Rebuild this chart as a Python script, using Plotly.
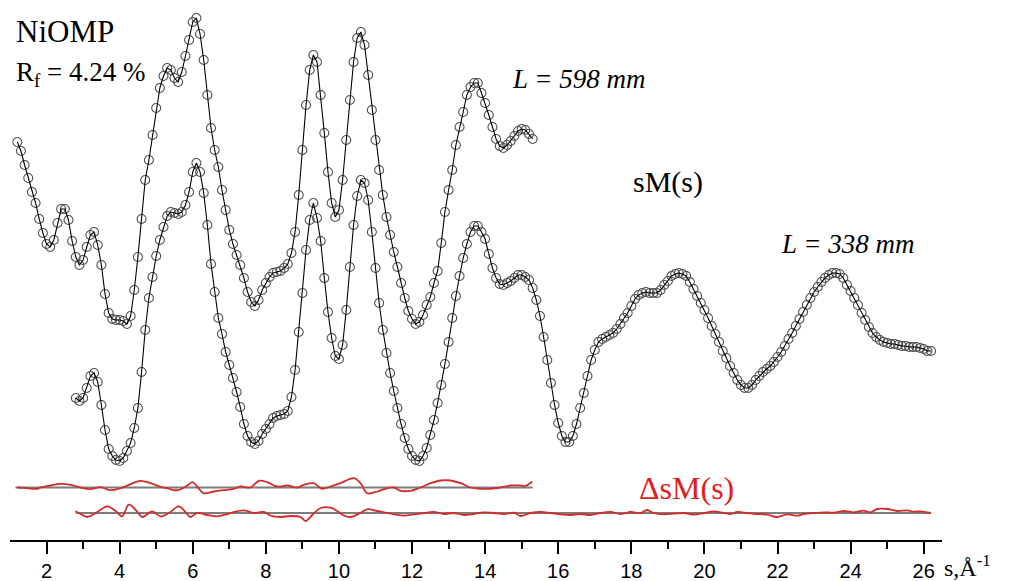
import numpy as np
import plotly.graph_objects as go

# ---------------- data (vertical values in arbitrary depth units, top = 0) ----------------
# L = 598 mm experimental / theoretical sM(s), s = 1.2 ... 15.3 step 0.1
S_598 = np.round(np.arange(1.2, 15.3001, 0.1), 1)
SM_598 = [
    142, 151, 165, 178, 192, 203, 219, 233, 244, 247,
    240, 223, 209, 209, 220, 241, 257, 265, 260, 247,
    235, 232, 245, 265, 294, 313, 319, 320, 320, 321,
    324, 316, 290, 257, 219, 180, 160, 135, 108, 88,
    76, 68, 70, 78, 82, 72, 56, 40, 22, 18,
    34, 60, 95, 128, 150, 167, 190, 210, 230, 244,
    255, 265, 278, 292, 302, 306, 300, 290, 283, 277,
    273, 272, 271, 268, 264, 253, 232, 195, 150, 105,
    70, 55, 62, 95, 133, 172, 203, 217, 210, 180,
    140, 100, 62, 38, 32, 45, 75, 110, 140, 170,
    195, 217, 235, 252, 267, 283, 298, 311, 319, 324,
    322, 315, 305, 297, 283, 271, 243, 212, 190, 170,
    145, 127, 112, 95, 87, 83, 83, 93, 103, 115,
    127, 139, 146, 148, 145, 141, 136, 131, 129, 130,
    134, 139,
]

# L = 338 mm, s = 2.8 ... 26.2 step 0.1
S_338 = np.round(np.arange(2.8, 26.2001, 0.1), 1)
SM_338 = [
    398, 401, 398, 388, 376, 373, 382, 405, 430, 449,
    456, 460, 461, 458, 451, 443, 428, 408, 372, 330,
    298, 277, 256, 240, 227, 216, 212, 213, 214, 212,
    205, 192, 172, 163, 172, 193, 225, 264, 292, 318,
    334, 352, 365, 378, 392, 407, 424, 436, 442, 444,
    441, 434, 429, 424, 418, 416, 415, 414, 411, 397,
    370, 332, 293, 250, 220, 203, 218, 241, 278, 312,
    338, 356, 359, 345, 310, 267, 225, 196, 180, 183,
    200, 232, 268, 303, 330, 353, 373, 391, 408, 424,
    438, 449, 456, 460, 461, 456, 448, 435, 420, 403,
    385, 364, 342, 318, 296, 276, 258, 244, 232, 226,
    226, 232, 239, 254, 268, 278, 284, 285, 283, 281,
    278, 275, 275, 277, 280, 288, 300, 316, 337, 360,
    383, 405, 423, 436, 442, 442, 436, 424, 408, 393,
    376, 360, 350, 342, 339, 337, 335, 333, 329, 324,
    318, 313, 306, 299, 295, 293, 292, 293, 293, 293,
    290, 285, 281, 276, 274, 273, 274, 276, 282, 289,
    296, 303, 310, 318, 326, 334, 342, 351, 358, 366,
    373, 380, 385, 388, 388, 385, 380, 376, 372, 369,
    366, 362, 357, 352, 346, 339, 333, 326, 319, 312,
    305, 298, 292, 287, 282, 278, 275, 273, 273, 274,
    278, 285, 291, 298, 305, 313, 320, 327, 333, 337,
    340, 342, 343, 344, 344, 345, 346, 346, 347, 347,
    347, 348, 349, 351, 351,
]

# residual curves  ΔsM(s) (deviation, positive = up) and their zero lines
RES598_S = [1.20, 1.47, 1.75, 1.84, 2.11, 2.38, 2.66, 2.93, 3.20, 3.48,
            3.75, 4.02, 4.30, 4.57, 4.85, 5.12, 5.30, 5.58, 5.85, 5.99,
            6.12, 6.30, 6.58, 6.85, 7.12, 7.31, 7.58, 7.81, 8.04, 8.31,
            8.59, 8.86, 9.04, 9.31, 9.54, 9.77, 10.04, 10.41, 10.59, 10.77,
            11.05, 11.23, 11.50, 11.69, 11.96, 12.23, 12.51, 12.78, 13.05, 13.33,
            13.60, 13.87, 14.15, 14.42, 14.69, 14.97, 15.10, 15.29]
RES598_D = [0, -0.7, -1.3, 0, 2, 3.7, 2.7, 0, -1.7, 0.3,
            -2.7, -0.7, 3.3, 6.7, 4.3, 0.7, -0.7, -2.7, 2, 5.3,
            1, -5.7, -4, -2.7, -1.3, 1, 0, 6.7, 5.3, 1,
            2, 0, 2.7, 4.3, -1.3, 1, 4.3, 9.3, 4.3, -5.7,
            -4, -1.7, 0, -3.3, -3.3, 0, 4.3, 7, 7, 4.3,
            0, -1.3, -1.3, 0, 2, 2, 1.5, 6]
RES598_BASE = 487.5
RES598_ZERO_S = [1.15, 15.3]

RES338_S = [2.79, 2.93, 3.11, 3.39, 3.66, 3.89, 4.07, 4.25, 4.44, 4.62,
            4.89, 5.12, 5.35, 5.62, 5.80, 5.94, 6.12, 6.40, 6.67, 6.94,
            7.12, 7.40, 7.67, 7.95, 8.13, 8.40, 8.68, 8.95, 9.09, 9.27,
            9.50, 9.77, 9.95, 10.14, 10.32, 10.59, 10.77, 11.05, 11.23, 11.50,
            11.78, 12.05, 12.32, 12.60, 12.87, 13.14, 13.42, 13.69, 13.96, 14.24,
            14.51, 14.79, 14.97, 15.24, 15.52, 15.79, 16.06, 16.34, 16.61, 16.88,
            17.16, 17.43, 17.71, 17.98, 18.25, 18.43, 18.61, 18.89, 19.16, 19.44,
            19.71, 19.98, 20.26, 20.44, 20.71, 20.90, 21.17, 21.44, 21.72, 21.99,
            22.27, 22.54, 22.72, 23.00, 23.27, 23.54, 23.82, 24.09, 24.36, 24.54,
            24.73, 25.00, 25.28, 25.55, 25.73, 25.91, 26.19]
RES338_D = [1.7, -1, -4, 1, 6.7, 2, -3.3, 8.3, 3, -4,
            1.7, -3.3, 0, 6.7, 1, -4, 0, -2, -3.3, -1.3,
            1, 2.7, 0, 1, -2.7, -4, -3, -4, -8, -2,
            5, 5.3, 2, -2.7, -4, 0, 3.7, 2, 0.7, -1.3,
            -2.7, -1.3, 0, 1, -1, 0, -2, -1, 0.7, 0,
            -1, 0.3, -3, 0, 1, 0, -1.3, -2, -1, -2,
            0, 1, -1, 1, 0, 3, 0, -1.3, -0.7, 0,
            -1.7, 0, 1.7, 0.7, -1, 1, 0, -1, -1.7, -4,
            -1.3, -2.7, -1, 0, 0.7, 0.3, 2, 0.7, 2.3, 0.7,
            4, 4, 2, 2.7, 1.3, 1.7, 0]
RES338_BASE = 513.0
RES338_ZERO_S = [2.8, 26.2]

X_TICKS = [2, 4, 6, 8, 10, 12, 14, 16, 18, 20, 22, 24, 26]
X_MINOR = [3, 5, 7, 9, 11, 13, 15, 17, 19, 21, 23, 25]

# ---------------- figure ----------------
fig = go.Figure()

circle_style = dict(symbol="circle-open", size=9, color="#505050", line=dict(width=1.1, color="#505050"))

for s, v in [(S_598, SM_598), (S_338, SM_338)]:
    fig.add_trace(go.Scatter(x=s, y=v, mode="markers", marker=circle_style,
                             cliponaxis=False, showlegend=False, hoverinfo="skip"))
    fig.add_trace(go.Scatter(x=s, y=v, mode="lines", line=dict(color="black", width=1.1),
                             cliponaxis=False, showlegend=False, hoverinfo="skip"))

for zs, base in [(RES598_ZERO_S, RES598_BASE), (RES338_ZERO_S, RES338_BASE)]:
    fig.add_trace(go.Scatter(x=zs, y=[base, base], mode="lines",
                             line=dict(color="#7d7d7d", width=1.8),
                             showlegend=False, hoverinfo="skip"))

for rs, rd, base in [(RES598_S, RES598_D, RES598_BASE), (RES338_S, RES338_D, RES338_BASE)]:
    fig.add_trace(go.Scatter(x=rs, y=[base - d for d in rd], mode="lines",
                             line=dict(color="#d42c2c", width=1.8, shape="spline", smoothing=1.0),
                             showlegend=False, hoverinfo="skip"))

serif = "Liberation Serif, Times New Roman, serif"
ann = [
    dict(text="NiOMP", x=1.1, y=31, xanchor="left", yanchor="middle", xref="x", yref="y",
         font=dict(family=serif, size=31, color="black")),
    dict(text="R<sub>f</sub> = 4.24 %", x=1.11, y=74, xanchor="left", yanchor="middle",
         xref="x", yref="y", font=dict(family=serif, size=27, color="black")),
    dict(text="<i>L = 598 mm</i>", x=16.56, y=79, xanchor="center", yanchor="middle",
         xref="x", yref="y", font=dict(family=serif, size=27, color="black")),
    dict(text="sM(s)", x=19.0, y=182, xanchor="center", yanchor="middle",
         xref="x", yref="y", font=dict(family=serif, size=30, color="black")),
    dict(text="<i>L = 338 mm</i>", x=23.94, y=244, xanchor="center", yanchor="middle",
         xref="x", yref="y", font=dict(family=serif, size=27, color="black")),
    dict(text="ΔsM(s)", x=19.51, y=488, xanchor="center", yanchor="middle",
         xref="x", yref="y", font=dict(family=serif, size=32, color="#e0201c")),
    dict(text="s,Å<sup>-1</sup>", x=1.0, y=-0.048, xanchor="left", yanchor="middle",
         xref="paper", yref="paper", font=dict(family=serif, size=24, color="black")),
]
for a in ann:
    a.update(showarrow=False)
fig.update_layout(annotations=ann)

fig.update_layout(
    width=1015, height=581,
    margin=dict(l=10, r=73, t=0, b=41),
    paper_bgcolor="white", plot_bgcolor="white",
    xaxis=dict(range=[1.0, 26.5], tickvals=X_TICKS, ticks="outside", ticklen=12,
               tickwidth=2, tickcolor="black", showline=True, linecolor="black",
               linewidth=2, showgrid=False, zeroline=False,
               tickfont=dict(family="Liberation Sans, Arial, sans-serif", size=20, color="black"),
               minor=dict(tickvals=X_MINOR, ticks="outside", ticklen=7, tickwidth=2,
                          tickcolor="black", showgrid=False)),
    yaxis=dict(range=[540, 0], visible=False, showgrid=False, zeroline=False),
)

fig.write_html("out.html")
